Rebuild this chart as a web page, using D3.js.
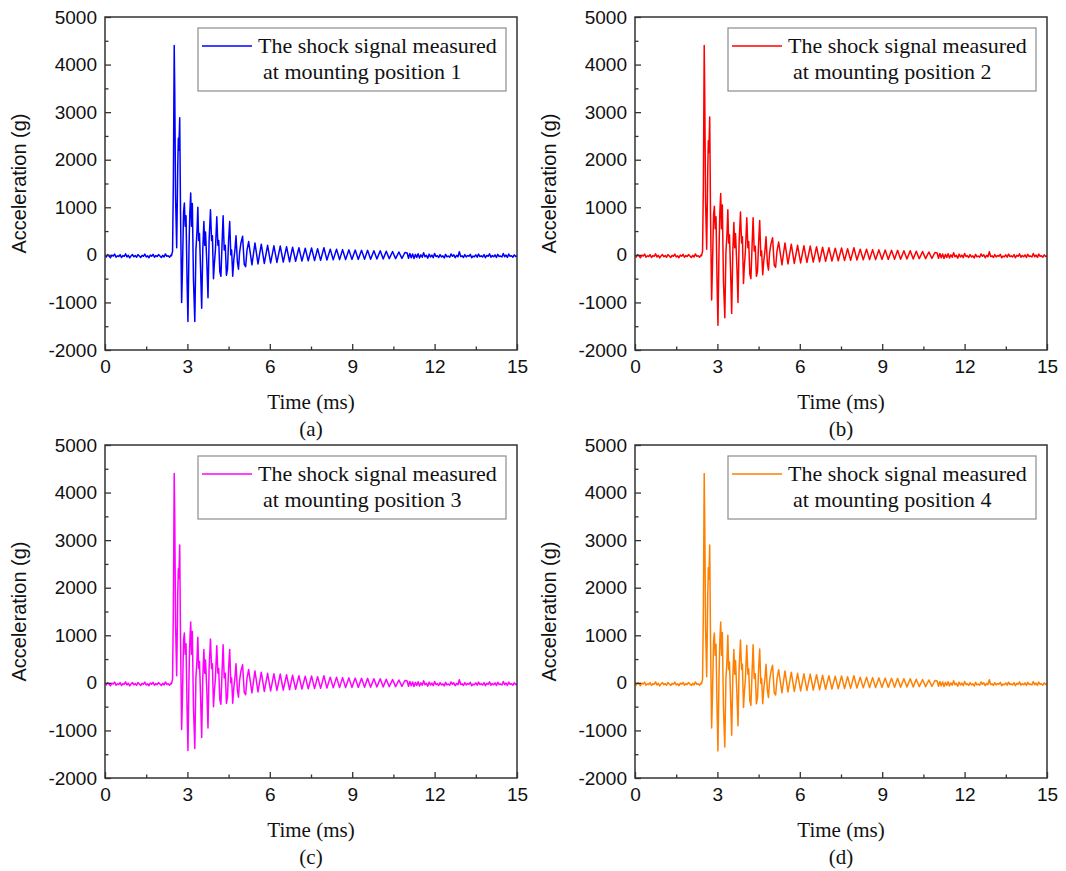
<!doctype html>
<html lang="en">
  <head>
    <meta charset="UTF-8" />
    <title>Shock signals measured at four mounting positions</title>
    <script src="https://d3js.org/d3.v7.min.js"></script>
    <style>
      body {
        margin: 0;
        background: #fff;
      }

      .axis text {
        font-family: 'Liberation Sans', Arial, sans-serif;
        font-size: 19px;
        fill: #111;
      }

      .axis line {
        stroke: #333;
        stroke-width: 1.3;
      }

      .axis .domain {
        display: none;
      }

      .frame {
        fill: none;
        stroke: #333;
        stroke-width: 1.5;
      }

      .y-title {
        font-family: 'Liberation Sans', Arial, sans-serif;
        font-size: 20px;
        fill: #111;
      }

      .x-title,
      .panel-tag {
        font-family: 'Liberation Serif', 'Times New Roman', serif;
        font-size: 21px;
        fill: #111;
      }

      .legend-text {
        font-family: 'Liberation Serif', 'Times New Roman', serif;
        font-size: 22px;
        fill: #111;
      }

      .legend-box {
        fill: #fff;
        stroke: #8c8c8c;
        stroke-width: 1.2;
      }

      .signal {
        fill: none;
        stroke-width: 1.5;
        stroke-linejoin: round;
      }
    </style>
  </head>
  <body>
    <svg id="chart"></svg>

    <script>
      // Axis ticks
      const xTicks = [0, 3, 6, 9, 12, 15]
      const xMinorTicks = [1.5, 4.5, 7.5, 10.5, 13.5]
      const yTicks = [-2000, -1000, 0, 1000, 2000, 3000, 4000, 5000]
      const yMinorTicks = [-1500, -500, 500, 1500, 2500, 3500, 4500]

      const panelTags = ['(a)', '(b)', '(c)', '(d)']
      const positions = ['1', '2', '3', '4']
      const colors = ['#0000ff', '#ff0000', '#ff00ff', '#ff8000']

      // Pre-trigger noise, sampled every 0.05 ms from 0 ms (g)
      const noiseStep = 0.05
      const preNoiseStart = 0
      const preNoise = [
        -10, -45, 5, -30, -60, -5, -25, 15, -50, -20,
        -35, 5, -55, -15, -30, 20, -45, -10, -65, -20,
        5, -40, -15, -50, 5, -25, -55, -10, -30, 15,
        -45, -20, -60, -5, -30, 10, -50, -15, -35, 5,
        -25, -55, -10, -45, 20, -30, -20, -50, -5,
      ]

      // Residual noise after the ringing dies out, every 0.05 ms from 11 ms (g)
      const endNoiseStart = 11.0
      const endNoise = [
        40, -70, 30, -60, 20, -75, 10, -55, 25, -65,
        0, -50, 45, -40, -10, -70, 15, -45, -5, -60,
        30, -35, -15, -55, 5, -45, -20, -65, 10, -40,
        -25, -50, 20, -30, 0, -60, -10, -40, 65, -35,
        -20, -55, 5, -45, -15, -30, 10, -60, -25, -40,
        0, -50, 15, -35, -20, -45, 5, -60, -10, -30,
        20, -50, -15, -40, 0, -55, 10, -35, -25, -45,
        30, -40, -5, -55, 15, -30, -20, -50, 0, -35,
        -20,
      ]

      // Decaying ringing, peaks and troughs [ms, g]
      const tailPoints = [
        [5.35, -210], [5.46, 250], [5.57, -190], [5.69, 225], [5.8, -180], [5.92, 200],
        [6.03, -170], [6.15, 190], [6.26, -160], [6.38, 185], [6.49, -150], [6.61, 170],
        [6.72, -145], [6.83, 160], [6.94, -135], [7.06, 150], [7.17, -130], [7.29, 140],
        [7.4, -125], [7.52, 145], [7.63, -120], [7.74, 130], [7.85, -115], [7.97, 150],
        [8.08, -110], [8.2, 120], [8.31, -105], [8.43, 120], [8.54, -100], [8.65, 110],
        [8.76, -100], [8.88, 105], [8.99, -95], [9.11, 100], [9.22, -95], [9.34, 95],
        [9.45, -90], [9.56, 95], [9.67, -90], [9.79, 85], [9.9, -85], [10.02, 85],
        [10.13, -85], [10.24, 75], [10.35, -80], [10.47, 70], [10.58, -80], [10.7, 60],
        [10.81, -75], [10.92, 50],
      ]

      // Main shock burst for each mounting position [ms, g]
      const burstA = [
        [2.42, -20], [2.46, 80], [2.49, 1600], [2.52, 4400], [2.54, 3400], [2.57, 1200],
        [2.61, 150], [2.65, 1900], [2.67, 2450], [2.69, 2200], [2.72, 2880], [2.75, 900],
        [2.79, -1000], [2.82, -300], [2.86, 900], [2.89, 1090], [2.92, 600], [2.95, 820],
        [2.99, -600], [3.02, -1400], [3.06, 200], [3.09, 900], [3.12, 1300], [3.15, 600],
        [3.18, 1080], [3.22, -500], [3.27, -1400], [3.31, 100], [3.35, 500], [3.38, 1000],
        [3.41, 300], [3.44, 450], [3.48, -300], [3.52, -1120], [3.56, 100], [3.6, 700],
        [3.63, 200], [3.66, 480], [3.71, -200], [3.75, -900], [3.79, 300], [3.84, 950],
        [3.88, 300], [3.91, 400], [3.95, -500], [3.98, -200], [4.02, 100], [4.07, 800],
        [4.11, 200], [4.14, 300], [4.18, -350], [4.22, -450], [4.26, 200], [4.3, 820],
        [4.34, 100], [4.38, 200], [4.42, -430], [4.46, -300], [4.5, 300], [4.54, 700],
        [4.58, 0], [4.61, 100], [4.65, -450], [4.69, -100], [4.73, 100], [4.77, 400],
        [4.82, -150], [4.86, -300], [4.9, 50], [4.95, 250], [5.01, 390], [5.07, -200],
        [5.12, -250], [5.17, 100], [5.23, 280],
      ]

      const burstB = [
        [2.42, -20], [2.46, 80], [2.49, 1500], [2.52, 4400], [2.54, 3300], [2.57, 1100],
        [2.61, 120], [2.65, 1800], [2.67, 2400], [2.69, 2150], [2.72, 2900], [2.75, 850],
        [2.79, -950], [2.82, -250], [2.86, 850], [2.89, 1020], [2.92, 550], [2.95, 800],
        [2.99, -650], [3.02, -1480], [3.06, 150], [3.09, 900], [3.12, 1290], [3.15, 550],
        [3.18, 1050], [3.22, -550], [3.27, -1320], [3.31, 50], [3.35, 450], [3.38, 950],
        [3.41, 250], [3.44, 420], [3.48, -350], [3.52, -1230], [3.56, 50], [3.6, 680],
        [3.63, 150], [3.66, 450], [3.71, -250], [3.75, -1000], [3.79, 250], [3.84, 900],
        [3.88, 250], [3.91, 380], [3.95, -600], [3.98, -250], [4.02, 80], [4.07, 780],
        [4.11, 150], [4.14, 280], [4.18, -400], [4.22, -500], [4.26, 150], [4.3, 780],
        [4.34, 80], [4.38, 180], [4.42, -450], [4.46, -350], [4.5, 250], [4.54, 720],
        [4.58, -20], [4.61, 80], [4.65, -420], [4.69, -120], [4.73, 80], [4.77, 380],
        [4.82, -180], [4.86, -320], [4.9, 40], [4.95, 230], [5.01, 360], [5.07, -220],
        [5.12, -260], [5.17, 80], [5.23, 270],
      ]

      const burstC = [
        [2.42, -20], [2.46, 80], [2.49, 1600], [2.52, 4400], [2.54, 3450], [2.57, 1200],
        [2.61, 150], [2.65, 1900], [2.67, 2400], [2.69, 2200], [2.72, 2900], [2.75, 900],
        [2.79, -980], [2.82, -300], [2.86, 900], [2.89, 1050], [2.92, 600], [2.95, 820],
        [2.99, -600], [3.02, -1420], [3.06, 200], [3.09, 900], [3.12, 1280], [3.15, 600],
        [3.18, 1080], [3.22, -500], [3.27, -1380], [3.31, 100], [3.35, 500], [3.38, 960],
        [3.41, 300], [3.44, 450], [3.48, -300], [3.52, -1150], [3.56, 100], [3.6, 700],
        [3.63, 200], [3.66, 480], [3.71, -200], [3.75, -950], [3.79, 300], [3.84, 920],
        [3.88, 300], [3.91, 400], [3.95, -500], [3.98, -200], [4.02, 100], [4.07, 780],
        [4.11, 200], [4.14, 300], [4.18, -350], [4.22, -450], [4.26, 200], [4.3, 800],
        [4.34, 100], [4.38, 200], [4.42, -430], [4.46, -300], [4.5, 300], [4.54, 700],
        [4.58, 0], [4.61, 100], [4.65, -430], [4.69, -100], [4.73, 100], [4.77, 400],
        [4.82, -150], [4.86, -300], [4.9, 50], [4.95, 250], [5.01, 380], [5.07, -200],
        [5.12, -250], [5.17, 100], [5.23, 280],
      ]

      const burstD = [
        [2.42, -20], [2.46, 80], [2.49, 1550], [2.52, 4400], [2.54, 3350], [2.57, 1150],
        [2.61, 130], [2.65, 1850], [2.67, 2420], [2.69, 2180], [2.72, 2900], [2.75, 880],
        [2.79, -950], [2.82, -280], [2.86, 880], [2.89, 1050], [2.92, 580], [2.95, 810],
        [2.99, -620], [3.02, -1430], [3.06, 180], [3.09, 900], [3.12, 1280], [3.15, 580],
        [3.18, 1060], [3.22, -520], [3.27, -1350], [3.31, 80], [3.35, 480], [3.38, 1000],
        [3.41, 280], [3.44, 440], [3.48, -320], [3.52, -1100], [3.56, 80], [3.6, 700],
        [3.63, 180], [3.66, 470], [3.71, -220], [3.75, -900], [3.79, 280], [3.84, 900],
        [3.88, 280], [3.91, 390], [3.95, -520], [3.98, -220], [4.02, 90], [4.07, 790],
        [4.11, 180], [4.14, 290], [4.18, -370], [4.22, -470], [4.26, 180], [4.3, 800],
        [4.34, 90], [4.38, 190], [4.42, -440], [4.46, -320], [4.5, 280], [4.54, 710],
        [4.58, -10], [4.61, 90], [4.65, -440], [4.69, -110], [4.73, 90], [4.77, 390],
        [4.82, -160], [4.86, -310], [4.9, 45], [4.95, 240], [5.01, 370], [5.07, -210],
        [5.12, -255], [5.17, 90], [5.23, 275],
      ]

      const bursts = [burstA, burstB, burstC, burstD]

      // Layout
      const svgWidth = 1066
      const svgHeight = 871
      const plotWidth = 412
      const plotHeight = 333
      const panelOrigins = [
        { left: 105, top: 17 },
        { left: 635, top: 17 },
        { left: 105, top: 445 },
        { left: 635, top: 445 },
      ]

      const svg = d3.select('#chart').attr('width', svgWidth).attr('height', svgHeight)

      const xScale = d3.scaleLinear().domain([0, 15]).range([0, plotWidth])
      const yScale = d3.scaleLinear().domain([-2000, 5000]).range([plotHeight, 0])

      const signalLine = d3
        .line()
        .x((d) => xScale(d[0]))
        .y((d) => yScale(d[1]))

      function buildSeries(burst) {
        const pre = preNoise.map((v, i) => [preNoiseStart + i * noiseStep, v])
        const end = endNoise.map((v, i) => [endNoiseStart + i * noiseStep, v])
        return pre.concat(burst, tailPoints, end)
      }

      panelOrigins.forEach((origin, i) => {
        const g = svg.append('g').attr('transform', `translate(${origin.left},${origin.top})`)

        g.append('clipPath')
          .attr('id', `clip-${i}`)
          .append('rect')
          .attr('width', plotWidth)
          .attr('height', plotHeight)

        // Signal trace
        g.append('path')
          .datum(buildSeries(bursts[i]))
          .attr('class', 'signal')
          .attr('clip-path', `url(#clip-${i})`)
          .attr('stroke', colors[i])
          .attr('d', signalLine)

        // Minor ticks (inward)
        g.append('g')
          .attr('class', 'axis')
          .attr('transform', `translate(0,${plotHeight})`)
          .call(d3.axisBottom(xScale).tickValues(xMinorTicks).tickSize(-3.5).tickFormat(''))
        g.append('g')
          .attr('class', 'axis')
          .call(d3.axisLeft(yScale).tickValues(yMinorTicks).tickSize(-3.5).tickFormat(''))

        // Major ticks and labels
        g.append('g')
          .attr('class', 'axis')
          .attr('transform', `translate(0,${plotHeight})`)
          .call(
            d3
              .axisBottom(xScale)
              .tickValues(xTicks)
              .tickSize(-6)
              .tickPadding(10)
              .tickFormat((d) => String(d))
          )
        g.append('g')
          .attr('class', 'axis')
          .call(
            d3
              .axisLeft(yScale)
              .tickValues(yTicks)
              .tickSize(-6)
              .tickPadding(8)
              .tickFormat((d) => String(d))
          )

        // Plot frame
        g.append('rect').attr('class', 'frame').attr('width', plotWidth).attr('height', plotHeight)

        // Axis titles
        g.append('text')
          .attr('class', 'x-title')
          .attr('text-anchor', 'middle')
          .attr('x', plotWidth / 2)
          .attr('y', plotHeight + 59)
          .text('Time (ms)')

        g.append('text')
          .attr('class', 'panel-tag')
          .attr('text-anchor', 'middle')
          .attr('x', plotWidth / 2)
          .attr('y', plotHeight + 86)
          .text(panelTags[i])

        g.append('text')
          .attr('class', 'y-title')
          .attr('text-anchor', 'middle')
          .attr('transform', `translate(-79,${plotHeight / 2}) rotate(-90)`)
          .text('Acceleration (g)')

        // Legend
        const legend = g.append('g').attr('transform', 'translate(93,11)')
        legend.append('rect').attr('class', 'legend-box').attr('width', 308).attr('height', 63)
        legend
          .append('line')
          .attr('x1', 4)
          .attr('x2', 54)
          .attr('y1', 18)
          .attr('y2', 18)
          .attr('stroke', colors[i])
          .attr('stroke-width', 1.6)
        legend
          .append('text')
          .attr('class', 'legend-text')
          .attr('x', 60)
          .attr('y', 25)
          .text('The shock signal measured')
        legend
          .append('text')
          .attr('class', 'legend-text')
          .attr('x', 65)
          .attr('y', 51)
          .text(`at mounting position ${positions[i]}`)
      })
    </script>
  </body>
</html>
